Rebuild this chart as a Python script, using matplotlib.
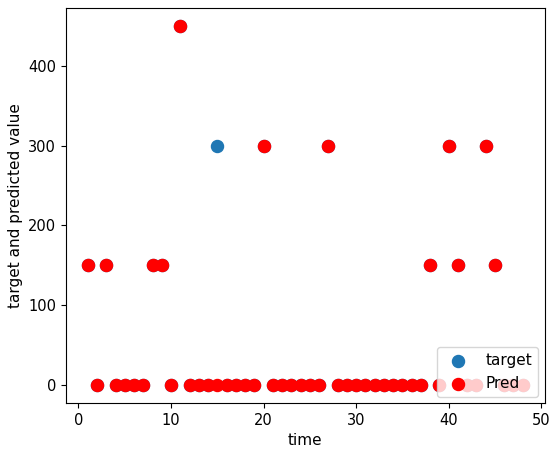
import matplotlib
matplotlib.use('Agg')
import matplotlib.pyplot as plt
import numpy as np

# Time steps and values
time = np.arange(1, 49)
pred = [150, 0, 150, 0, 0, 0, 0, 150, 150, 0,
        450, 0, 0, 0, 0, 0, 0, 0, 0, 300,
        0, 0, 0, 0, 0, 0, 300, 0, 0, 0,
        0, 0, 0, 0, 0, 0, 0, 150, 0, 300,
        150, 0, 0, 300, 150, 0, 0, 0]
target = list(pred)
target[14] = 300  # time 15

fig = plt.figure(figsize=(5.5, 4.63), dpi=100)
ax = fig.subplots()
ax.scatter(time, target, s=75, color='#1f77b4', label='target')
ax.scatter(time, pred, s=75, color='red', label='Pred')
ax.set_xlabel('time', fontsize=11)
ax.set_ylabel('target and predicted value', fontsize=11)
ax.set_xticks([0, 10, 20, 30, 40, 50])
ax.set_yticks([0, 100, 200, 300, 400])
ax.tick_params(labelsize=10.5)
ax.legend(loc='lower right', fontsize=11, borderaxespad=0.4)

fig.subplots_adjust(left=0.12, right=0.99, top=0.983, bottom=0.13)
fig.savefig('out.png')
